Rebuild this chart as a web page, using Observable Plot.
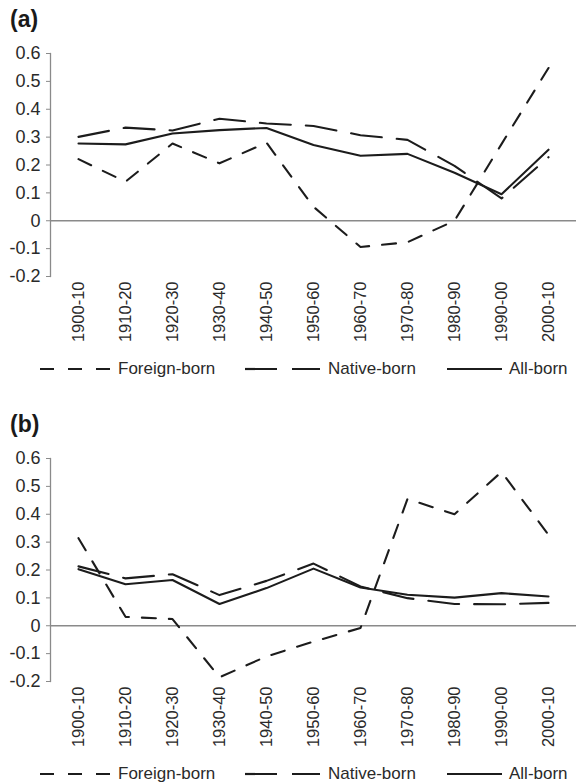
<!DOCTYPE html>
<html><head><meta charset="utf-8">
<script src="https://cdn.jsdelivr.net/npm/d3@7"></script>
<script src="https://cdn.jsdelivr.net/npm/@observablehq/plot@0.6"></script>
<style>
html,body{margin:0;padding:0;background:#fff;}
body{font-family:"Liberation Sans",Arial,sans-serif;width:576px;height:784px;overflow:hidden;}
.panel{position:relative;width:576px;height:405px;overflow:hidden;}
.panel svg.plot{position:absolute;left:0;top:0;}
.tag{position:absolute;left:10px;top:8px;font-weight:bold;font-size:23px;line-height:23px;color:#1a1a1a;}
.leg{position:absolute;top:351px;height:36px;display:flex;align-items:center;font-size:17px;color:#2a2a2a;white-space:nowrap;}
.leg svg{display:block;}
</style></head><body>
<div id="charts"></div>
<script>
const periods = ["1900-10","1910-20","1920-30","1930-40","1940-50","1950-60","1960-70","1970-80","1980-90","1990-00","2000-10"];
const seriesNames = ["Foreign-born","Native-born","All-born"];
const panelLabels = ["(a)","(b)"];
const yTicks = [-0.2,-0.1,0,0.1,0.2,0.3,0.4,0.5,0.6];

// Panel (a)
const aForeign = [0.221,0.140,0.277,0.206,0.280,0.050,-0.094,-0.077,0.000,0.275,0.548];
const aNative  = [0.301,0.334,0.324,0.366,0.349,0.340,0.307,0.290,0.197,0.080,0.228];
const aAll     = [0.277,0.274,0.313,0.325,0.333,0.272,0.233,0.240,0.172,0.095,0.255];
// Panel (b)
const bForeign = [0.314,0.032,0.024,-0.185,-0.110,-0.057,-0.008,0.455,0.400,0.552,0.326];
const bNative  = [0.213,0.170,0.185,0.110,0.161,0.223,0.141,0.099,0.078,0.077,0.082];
const bAll     = [0.203,0.149,0.164,0.078,0.135,0.205,0.137,0.111,0.101,0.117,0.105];

const panels = [
  {label: panelLabels[0], series: [aForeign, aNative, aAll]},
  {label: panelLabels[1], series: [bForeign, bNative, bAll]}
];
const dashes = ["14,13", "31,15", null];
const legendDash = ["14,14", "32,15", null];
const legendSampleLeft = [40, 245, 447];
const legendSampleWidth = [72, 75, 55];
const legendTextLeft = [118, 328, 509];
const ink = "#1c1c1c";
const axisGray = "#8a8a8a";

const rows = vals => periods.map((p, i) => ({period: p, value: vals[i]}));

const root = document.getElementById("charts");
for (const panel of panels) {
  const div = document.createElement("div");
  div.className = "panel";
  const chart = Plot.plot({
    width: 576, height: 350,
    marginLeft: 50, marginRight: 0, marginTop: 53, marginBottom: 74,
    style: {fontFamily: "Liberation Sans, Arial, sans-serif", color: "#2a2a2a", background: "transparent", overflow: "visible"},
    x: {type: "point", domain: periods, padding: 0.5, label: null},
    y: {domain: [-0.2, 0.6], label: null},
    marks: [
      Plot.ruleY([0], {stroke: axisGray, strokeWidth: 1.3}),
      Plot.frame({anchor: "left", stroke: axisGray, strokeWidth: 1.3}),
      Plot.axisY({ticks: yTicks, tickFormat: d => Math.abs(d) < 1e-9 ? "0" : d.toFixed(1), tickSize: 4, tickPadding: 6, fontSize: 18, stroke: axisGray, fill: "#2a2a2a", label: null}),
      Plot.axisX({tickRotate: -90, tickSize: 0, tickPadding: 5, fontSize: 16.5, fill: "#2a2a2a", label: null}),
      ...panel.series.map((vals, k) => Plot.lineY(rows(vals), {
        x: "period", y: "value", stroke: ink, strokeWidth: 2.1,
        strokeDasharray: dashes[k] || undefined, strokeLinejoin: "round"
      }))
    ]
  });
  chart.classList.add("plot");
  div.appendChild(chart);

  const tag = document.createElement("div");
  tag.className = "tag";
  tag.textContent = panel.label;
  div.appendChild(tag);

  seriesNames.forEach((name, k) => {
    const s = document.createElement("div");
    s.className = "leg";
    s.style.left = legendSampleLeft[k] + "px";
    const w = legendSampleWidth[k];
    s.innerHTML = `<svg width="${w}" height="6"><line x1="0" x2="${w}" y1="3" y2="3" stroke="${ink}" stroke-width="2.2" ${legendDash[k] ? `stroke-dasharray="${legendDash[k]}"` : ""}/></svg>`;
    div.appendChild(s);
    const t = document.createElement("div");
    t.className = "leg";
    t.style.left = legendTextLeft[k] + "px";
    t.textContent = name;
    div.appendChild(t);
  });
  root.appendChild(div);
}
</script>
</body></html>
